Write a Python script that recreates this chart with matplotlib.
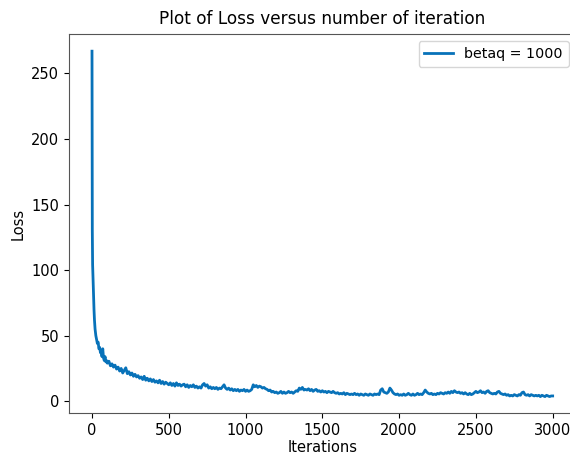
import matplotlib
matplotlib.use('Agg')
import matplotlib.pyplot as plt

# first 100 iterations, read at irregular steps
early_iters = [0, 1, 2, 3, 4, 6, 8, 10, 13, 16, 20, 25, 30, 35, 40, 45, 50,
               55, 60, 65, 70, 75, 80, 85, 90, 95]
early_loss = [267, 180, 130, 112, 104, 96, 88, 80, 70, 62, 55, 50, 47, 44, 45,
              40, 41, 37, 38, 34, 40, 33, 31, 34, 30, 31]

# from iteration 100 to 3000, one reading every 10 iterations (one row = 100 its)
late_step = 10
late_loss = [
    29, 30.5, 27, 28.5, 26, 27.5, 24.5, 26, 23, 25,
    21.5, 23.5, 25.5, 21, 22.5, 20, 21.5, 19, 20.5, 18.5,
    19.5, 17.5, 18.5, 16.5, 19, 16, 17.5, 15.5, 17, 15,
    16.5, 14.5, 15.5, 14, 16, 13.5, 15, 13, 14.5, 13.5,
    12.5, 14, 12, 13.5, 11.5, 14, 12, 13, 11.5, 12.5,
    13, 11, 12.5, 10.5, 12, 11, 12.5, 10.5, 11.5, 10,
    11, 10, 12.5, 13.5, 11.5, 12.5, 10, 11, 9.5, 10.5,
    9.5, 10.5, 9, 10, 9.5, 11, 12.5, 10, 9, 10,
    8.5, 9.5, 8, 9, 8, 9, 7.5, 8.5, 8, 9,
    7.5, 8.5, 7.5, 8, 9, 12.5, 11, 12, 10.5, 11.5,
    11, 10, 10.5, 9.5, 9, 8, 8.5, 7, 7.5, 6.5,
    7, 6, 6.5, 7.5, 6, 7, 6, 6.5, 7.5, 6.5,
    7, 6, 7, 8, 7.5, 10, 9, 10.5, 8.5, 9,
    8.5, 9.5, 8, 9, 7.5, 8.5, 9, 7.5, 8, 7,
    8, 7, 7.5, 6.5, 7.5, 7, 6.5, 7.5, 6.5, 6,
    6.5, 5.5, 6, 5.5, 6.5, 5, 6, 5.5, 5, 5.5,
    5, 6, 5, 5.5, 4.5, 5.5, 5, 4.5, 5.5, 5,
    4.5, 5.5, 5, 4.5, 5.5, 5, 5.5, 5, 8.5, 9.5,
    7, 6.5, 6, 7, 10, 8.5, 6.5, 5.5, 5, 5.5,
    4.5, 5, 4.5, 5.5, 4.5, 5, 6, 5, 4.5, 5.5,
    4.5, 5, 6, 5, 5.5, 5, 6.5, 8.5, 7, 6,
    5.5, 6, 5, 5.5, 5, 6, 5.5, 6.5, 6, 5.5,
    6.5, 6, 7, 6, 7.5, 6.5, 8, 7, 6.5, 7,
    6, 6.5, 5.5, 6.5, 5.5, 5, 6, 5, 5.5, 6.5,
    7.5, 6.5, 7, 8, 6.5, 7, 6, 7.5, 8, 6.5,
    6, 5.5, 6, 5.5, 7, 7.5, 6, 5.5, 5, 5.5,
    4.5, 5, 4, 4.5, 4, 5, 4.5, 4, 5, 4.5,
    6.5, 7, 5, 4.5, 5, 4, 5, 4.5, 4, 4.5,
    4, 4.5, 3.5, 4.5, 4, 3.5, 4.5, 4, 3.5, 4,
    4,
]
late_iters = list(range(100, 100 + late_step * len(late_loss), late_step))

iterations = early_iters + late_iters
loss = early_loss + late_loss

fig = plt.figure(figsize=(5.7, 4.57), dpi=100)
ax = fig.add_axes([0.121, 0.0963, 0.889, 0.829])

ax.plot(iterations, loss, color='#0872b9', linewidth=2.0, label='betaq = 1000')

ax.set_xlim(-150, 3150)
ax.set_ylim(-9, 280)
ax.set_xticks([0, 500, 1000, 1500, 2000, 2500, 3000])
ax.set_yticks([0, 50, 100, 150, 200, 250])

ax.set_xlabel('Iterations', fontsize=10.5, labelpad=2)
ax.set_ylabel('Loss', fontsize=10.5)
ax.set_title('Plot of Loss versus number of iteration', fontsize=12.2, pad=7)
ax.tick_params(labelsize=10.5)
for s in ax.spines.values():
    s.set_color('#555555')
# right spine falls outside the cropped picture
ax.spines['right'].set_visible(False)

ax.legend(loc='upper right', fontsize=10.3, handlelength=2.0)

fig.savefig('out.png', dpi=100)
